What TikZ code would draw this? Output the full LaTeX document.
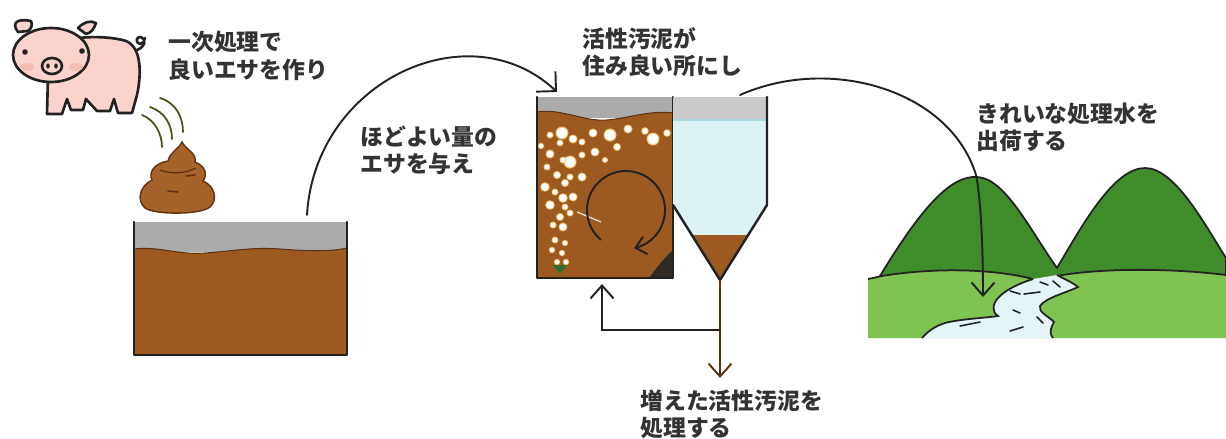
\documentclass[tikz,border=0pt]{standalone}
\usepackage{fontspec}
\setmainfont{Noto Sans CJK JP}
\usetikzlibrary{arrows.meta}

\definecolor{ink}{HTML}{222222}
\definecolor{txt}{HTML}{333333}
\definecolor{pigpink}{HTML}{FBD3CC}
\definecolor{pigblush}{HTML}{F6BDB3}
\definecolor{mud}{HTML}{9C5A20}
\definecolor{mudline}{HTML}{5E3210}
\definecolor{poop}{HTML}{A5632A}
\definecolor{scum}{HTML}{ABABAB}
\definecolor{scumlight}{HTML}{CACACA}
\definecolor{clearwater}{HTML}{DDF2F5}
\definecolor{waterline}{HTML}{A9DDE3}
\definecolor{hill}{HTML}{3F8C2B}
\definecolor{meadow}{HTML}{7FC352}
\definecolor{river}{HTML}{E3F5F8}
\definecolor{glow}{HTML}{F5C06A}
\definecolor{diffuser}{HTML}{2F6E2F}

\tikzset{
  caption/.style={font=\bfseries\fontsize{13pt}{15.5pt}\selectfont, text=txt,
    align=left, anchor=west, inner sep=0pt},
  flow/.style={draw=ink, line width=1.1pt, line cap=round,
    -{Straight Barb[length=0.26cm,width=0.46cm]}},
  wall/.style={draw=ink, line width=1.4pt, line cap=round, line join=round},
  pigline/.style={draw=ink, line width=1.5pt, line join=round, line cap=round},
  surface/.style={draw=mudline, line width=0.6pt},
}

\begin{document}
\begin{tikzpicture}[x=0.02cm, y=-0.02cm]
\useasboundingbox (0,0) rectangle (1226,439);

% ---------- pig ----------
\draw[pigline] (137,50) .. controls (145,47) and (147,39) .. (141,37)
  .. controls (136,36) and (135,43) .. (140,44) .. controls (143,44) and (145,41) .. (145,38);
\draw[pigline, fill=pigpink] (48,75) -- (47,114) -- (62,114) -- (67,99) -- (71,110) -- (83,110)
  -- (86,99) -- (97,111) -- (110,111) -- (114,99) -- (118,113) -- (132,113) -- (137,95)
  .. controls (142,72) and (141,47) .. (126,41)
  .. controls (110,36) and (82,36) .. (70,40) -- cycle;
\draw[pigline, fill=pigpink] (18,32) .. controls (12,24) and (15,18) .. (31,21)
  .. controls (33,25) and (31,29) .. (28,31) -- cycle;
\draw[pigline, fill=pigpink] (78,28) .. controls (84,22) and (90,20) .. (96,23)
  .. controls (94,29) and (91,33) .. (86,34) -- cycle;
\draw[pigline, fill=pigpink] (51,55) ellipse[x radius=38, y radius=27];
\fill[pigblush] (27,67) ellipse[x radius=7, y radius=4];
\fill[pigblush] (76,67) ellipse[x radius=7, y radius=4];
\draw[pigline, fill=pigpink] (52,66) ellipse[x radius=10, y radius=8];
\fill[ink] (48,66) ellipse[x radius=1.8, y radius=2.6];
\fill[ink] (56,66) ellipse[x radius=1.8, y radius=2.6];
\fill[ink] (25,52) circle[radius=2.8];
\fill[ink] (82,51) circle[radius=2.8];

% ---------- falling motion marks ----------
\begin{scope}[draw=ink!80!yellow, line width=1pt, line cap=round]
  \draw (142,115) .. controls (155,120) and (162,134) .. (162,147);
  \draw (150,107) .. controls (165,112) and (172,125) .. (172,139);
  \draw (160,98)  .. controls (176,103) and (183,117) .. (183,132);
\end{scope}

% ---------- dung ----------
\draw[fill=poop, draw=mudline, line width=0.8pt]
  (182,142) .. controls (186,150) and (197,153) .. (195,162)
  .. controls (205,166) and (208,174) .. (203,181)
  .. controls (215,186) and (218,200) .. (210,207)
  .. controls (200,215) and (155,215) .. (145,208)
  .. controls (136,200) and (140,186) .. (152,180)
  .. controls (148,172) and (155,163) .. (168,161)
  .. controls (170,152) and (178,150) .. (182,142) -- cycle;
\draw[mudline, line width=0.9pt, line cap=round] (168,191) -- (178,192);
\draw[mudline, line width=0.9pt, line cap=round] (186,176) -- (195,175);
\draw[mudline, line width=0.7pt] (160,170) .. controls (170,174) and (185,174) .. (196,168);

% ---------- primary tank ----------
\fill[scum] (134,222) rectangle (347,252);
\fill[mud] (134,249) .. controls (160,246) and (175,255) .. (205,253)
  .. controls (235,251) and (250,247) .. (280,249)
  .. controls (305,251) and (330,252) .. (347,248) -- (347,355) -- (134,355) -- cycle;
\draw[surface] (134,249) .. controls (160,246) and (175,255) .. (205,253)
  .. controls (235,251) and (250,247) .. (280,249)
  .. controls (305,251) and (330,252) .. (347,248);
\draw[wall] (134,222) -- (134,355) -- (347,355) -- (347,222);

% ---------- aeration tank ----------
\fill[scum] (537,97) rectangle (673,118);
\fill[mud] (537,112) .. controls (560,108) and (585,122) .. (607,120)
  .. controls (630,118) and (650,110) .. (673,113) -- (673,278) -- (537,278) -- cycle;
\draw[surface] (537,112) .. controls (560,108) and (585,122) .. (607,120)
  .. controls (630,118) and (650,110) .. (673,113);
\foreach \x/\y/\r in {562/133/5.5, 550/135/2.5, 573/139/3.5, 593/133/3.5, 610/135/5.5, 628/129/3.5,
  645/131/2.8, 653/139/5.5, 667/133/2.8, 617/147/3, 595/152/3.5, 582/142/2.5, 560/143/2.5,
  550/154/3.5, 570/162/5.5, 582/155/2.5, 563/160/2.5, 547/167/2.5, 557/175/3, 570/177/2.5,
  582/177/3.5, 545/187/3.8, 565/183/3, 555/192/2.5, 573/197/3.5, 563/198/3.8, 550/205/3.8,
  565/207/2.5, 570/213/2.5, 560/217/3, 553/225/2.5, 563/227/3.5, 555/240/2.5, 565/243/2.2,
  552/250/2.2, 562/253/2.2, 557/262/2.2, 566/262/2.2, 541/146/2.2, 605/160/2}{
  \fill[glow] (\x,\y) circle[radius=\r+1];
  \fill[white] (\x,\y) circle[radius=\r];
}
\draw[white!80!brown, line width=0.7pt] (577,212) -- (601,222);
\fill[diffuser] (553,265) -- (567,265) -- (560,274) -- cycle;
\fill[ink!90!brown] (649,278) .. controls (658,266) and (664,258) .. (673,250) -- (673,278) -- cycle;
\draw[draw=ink, line width=1.1pt, -{Straight Barb[length=0.2cm,width=0.36cm]}]
  plot[domain=130:438, samples=80] ({626+39*cos(\x)},{210+39*sin(\x)});
\draw[wall] (537,97) -- (537,278) -- (673,278) -- (673,97);

% ---------- settling tank ----------
\fill[scumlight] (673,97) rectangle (767,120);
\fill[clearwater] (673,120) -- (767,120) -- (767,205) -- (720,280) -- (673,205) -- cycle;
\draw[waterline, line width=0.8pt] (673,120) -- (767,120);
\fill[mud] (692,235) -- (748,235) -- (720,280) -- cycle;
\draw[wall] (767,97) -- (767,205) -- (720,280) -- (673,205);

% ---------- sludge piping ----------
\coordinate (conetip) at (720,280);
\coordinate (split) at (720,330);
\coordinate (excess) at (720,378);
\coordinate (bend) at (602,330);
\coordinate (returnin) at (602,284);
\draw[flow, draw=mudline] (conetip) -- (excess);
\draw[flow] (split) -- (bend) -- (returnin);

% ---------- landscape ----------
\draw[fill=hill, draw=ink, line width=1pt]
  (880,290) -- (880,276) .. controls (920,210) and (950,175) .. (977,177)
  .. controls (1005,178) and (1030,230) .. (1057,268)
  .. controls (1085,220) and (1115,168) .. (1145,168)
  .. controls (1175,168) and (1205,225) .. (1226,258) -- (1226,290) -- cycle;
\fill[meadow] (868,338) -- (868,279) -- (882,276)
  .. controls (930,268) and (990,268) .. (1033,279)
  -- (1057,276) .. controls (1100,268) and (1170,268) .. (1226,275) -- (1226,338) -- cycle;
\draw[ink, line width=1pt] (868,279) -- (882,276) .. controls (930,268) and (990,268) .. (1033,279);
\draw[ink, line width=1pt] (1057,276) .. controls (1100,268) and (1170,268) .. (1226,275);
\fill[river] (1033,279) .. controls (1020,283) and (1005,290) .. (998,298)
  .. controls (992,305) and (992,312) .. (998,316)
  .. controls (985,318) and (960,319) .. (945,323)
  .. controls (935,326) and (927,332) .. (922,338)
  -- (1053,338) .. controls (1048,332) and (1052,326) .. (1054,322)
  .. controls (1048,316) and (1038,312) .. (1040,306)
  .. controls (1045,298) and (1068,292) .. (1078,287)
  .. controls (1072,282) and (1062,278) .. (1057,275) -- cycle;
\draw[ink, line width=1pt] (1033,279) .. controls (1020,283) and (1005,290) .. (998,298)
  .. controls (992,305) and (992,312) .. (998,316)
  .. controls (985,318) and (960,319) .. (945,323)
  .. controls (935,326) and (927,332) .. (922,338);
\draw[ink, line width=1pt] (1053,338) .. controls (1048,332) and (1052,326) .. (1054,322)
  .. controls (1048,316) and (1038,312) .. (1040,306)
  .. controls (1045,298) and (1068,292) .. (1078,287)
  .. controls (1072,282) and (1062,278) .. (1057,275);
\begin{scope}[ink, line width=0.9pt, line cap=round]
  \draw (1040,282) -- (1048,285);
  \draw (1053,281) -- (1060,287);
  \draw (1010,291) -- (1020,294);
  \draw (1024,294) -- (1040,292);
  \draw (1013,310) -- (1020,313);
  \draw (1037,317) -- (1043,323);
  \draw (960,326) -- (980,322);
  \draw (1010,331) -- (1023,327);
\end{scope}

% ---------- process arrows ----------
\coordinate (feedout) at (307,215);
\coordinate (feedin) at (557,92);
\draw[flow, -{Straight Barb[length=0.28cm,width=0.56cm]}]
  (feedout) .. controls (315,80) and (470,10) .. (feedin);
\coordinate (clearout) at (740,95);
\coordinate (midfall) at (976,175);
\coordinate (stream) at (983,297);
\draw[flow] (clearout) .. controls (830,55) and (950,90) .. (midfall)
  .. controls (981,200) and (983,250) .. (stream);

% ---------- captions ----------
\node[caption] (cap1) at (168,56) {一次処理で\\良いエサを作り};
\node[caption] (cap2) at (360,150) {ほどよい量の\\エサを与え};
\node[caption] (cap3) at (582,52) {活性汚泥が\\住み良い所にし};
\node[caption] (cap4) at (976,127) {きれいな処理水を\\出荷する};
\node[caption] (cap5) at (640,414) {増えた活性汚泥を\\処理する};
\end{tikzpicture}
\end{document}
